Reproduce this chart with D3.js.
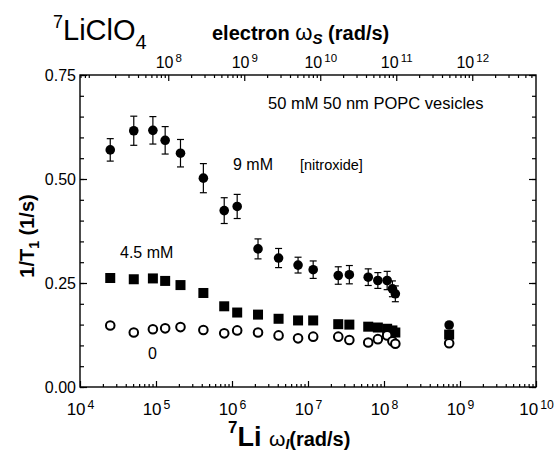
<!DOCTYPE html>
<html>
<head>
<meta charset="utf-8">
<script src="https://cdn.jsdelivr.net/npm/d3@7"></script>
<style>
  body { margin: 0; background: #fff; }
  svg { font-family: "Liberation Sans", Arial, sans-serif; }
</style>
</head>
<body>
<svg width="556" height="451"></svg>
<script>
// 7Li angular frequency (rad/s) of each measurement
var liOmega = [2.5e4, 5.1e4, 9.1e4, 1.32e5, 2.1e5, 4.2e5, 7.9e5, 1.17e6, 2.2e6, 4.1e6,
               7.4e6, 1.17e7, 2.5e7, 3.5e7, 6.2e7, 8.3e7, 1.1e8, 1.29e8, 1.41e8, 7.2e8];

// 1/T1 (1/s) for the three nitroxide concentrations
var rate9mM = [0.570, 0.616, 0.617, 0.593, 0.562, 0.502, 0.424, 0.434, 0.332, 0.310,
               0.293, 0.282, 0.268, 0.270, 0.264, 0.256, 0.256, 0.236, 0.224, 0.149];
var err9mM  = [0.027, 0.035, 0.033, 0.033, 0.033, 0.035, 0.031, 0.029, 0.024, 0.023,
               0.019, 0.021, 0.021, 0.022, 0.020, 0.019, 0.022, 0.019, 0.019, 0];
var rate45mM = [0.262, 0.259, 0.261, 0.255, 0.245, 0.226, 0.194, 0.179, 0.174, 0.164,
                0.160, 0.160, 0.151, 0.150, 0.145, 0.143, 0.140, 0.136, 0.131, 0.126];
var rate0mM = [0.148, 0.131, 0.139, 0.141, 0.144, 0.137, 0.129, 0.136, 0.131, 0.124,
               0.117, 0.121, 0.121, 0.113, 0.107, 0.115, 0.124, 0.110, 0.104, 0.105];

// ratio between electron and 7Li frequencies used for the top axis
var electronRatio = 690;

var bottomTicks = [1e4, 1e5, 1e6, 1e7, 1e8, 1e9, 1e10];
var topTicks = [1e8, 1e9, 1e10, 1e11, 1e12];
var yTicks = [0, 0.25, 0.5, 0.75];
var yMinorTicks = d3.range(0, 0.7501, 0.05);

var svg = d3.select('svg');
var padding = {t: 75, r: 20, b: 64, l: 80};
var plotW = 556 - padding.l - padding.r;
var plotH = 451 - padding.t - padding.b;

var xScale = d3.scaleLog().domain([1e4, 1e10]).range([0, plotW]);
var xTopScale = d3.scaleLog().domain([1e4 * electronRatio, 1e10 * electronRatio]).range([0, plotW]);
var yScale = d3.scaleLinear().domain([0, 0.75]).range([plotH, 0]);

var chartG = svg.append('g')
    .attr('transform', 'translate(' + [padding.l, padding.t] + ')');

// minor log ticks for a domain
function minorLogTicks(lo, hi) {
    var out = [];
    for (var e = Math.floor(Math.log10(lo)); e < Math.ceil(Math.log10(hi)); e++) {
        for (var m = 2; m <= 9; m++) {
            var v = m * Math.pow(10, e);
            if (v > lo && v < hi) out.push(v);
        }
    }
    return out;
}

function powerLabels(sel, size) {
    sel.selectAll('.tick text').each(function(d) {
        var t = d3.select(this);
        t.text(null).style('font-size', size + 'px').attr('fill', '#000');
        t.append('tspan').text('10');
        t.append('tspan').attr('dx', 2).attr('dy', '-0.5em').style('font-size', (size * 0.72) + 'px')
            .text(Math.round(Math.log10(d)));
    });
}

function cleanAxis(g) {
    g.select('.domain').remove();
    g.selectAll('.tick line').attr('stroke', '#000').attr('stroke-width', 1.2);
}

// bottom axis
var bottomG = chartG.append('g').attr('transform', 'translate(0,' + plotH + ')');
bottomG.append('g')
    .call(d3.axisBottom(xScale).tickValues(minorLogTicks(1e4, 1e10)).tickSize(-3).tickFormat(''))
    .call(cleanAxis);
bottomG.append('g')
    .call(d3.axisBottom(xScale).tickValues(bottomTicks).tickSize(-6).tickPadding(16))
    .call(cleanAxis)
    .call(powerLabels, 17);

// top axis (electron frequency)
var topG = chartG.append('g');
topG.append('g')
    .call(d3.axisTop(xTopScale).tickValues(minorLogTicks(1e4 * electronRatio, 1e10 * electronRatio))
        .tickSize(-3).tickFormat(''))
    .call(cleanAxis);
topG.append('g')
    .call(d3.axisTop(xTopScale).tickValues(topTicks).tickSize(-6).tickPadding(7))
    .call(cleanAxis)
    .call(powerLabels, 16);

// left axis
var leftG = chartG.append('g');
leftG.append('g')
    .call(d3.axisLeft(yScale).tickValues(yMinorTicks).tickSize(-4).tickFormat(''))
    .call(cleanAxis);
leftG.append('g')
    .call(d3.axisLeft(yScale).tickValues(yTicks).tickSize(-7).tickPadding(4).tickFormat(d3.format('.2f')))
    .call(cleanAxis)
    .selectAll('.tick text').style('font-size', '16px').attr('fill', '#000');

// right axis
var rightG = chartG.append('g').attr('transform', 'translate(' + plotW + ',0)');
rightG.append('g')
    .call(d3.axisRight(yScale).tickValues(yMinorTicks).tickSize(-4).tickFormat(''))
    .call(cleanAxis);
rightG.append('g')
    .call(d3.axisRight(yScale).tickValues(yTicks).tickSize(-7).tickFormat(''))
    .call(cleanAxis);

// frame
chartG.append('rect')
    .attr('width', plotW).attr('height', plotH)
    .attr('fill', 'none').attr('stroke', '#000').attr('stroke-width', 1.4);

// 4.5 mM squares
chartG.selectAll('.sq')
    .data(liOmega)
    .enter().append('rect')
    .attr('class', 'sq')
    .attr('x', function(d) { return xScale(d) - 5; })
    .attr('y', function(d, i) { return yScale(rate45mM[i]) - 5; })
    .attr('width', 10).attr('height', 10)
    .attr('fill', '#000');

// 9 mM error bars
var errG = chartG.selectAll('.err')
    .data(liOmega.map(function(d, i) { return {x: d, y: rate9mM[i], e: err9mM[i]}; })
        .filter(function(d) { return d.e > 0; }))
    .enter().append('g').attr('class', 'err')
    .attr('stroke', '#000').attr('stroke-width', 1.2);
errG.append('line')
    .attr('x1', function(d) { return xScale(d.x); })
    .attr('x2', function(d) { return xScale(d.x); })
    .attr('y1', function(d) { return yScale(d.y - d.e); })
    .attr('y2', function(d) { return yScale(d.y + d.e); });
[-1, 1].forEach(function(s) {
    errG.append('line')
        .attr('x1', function(d) { return xScale(d.x) - 3.5; })
        .attr('x2', function(d) { return xScale(d.x) + 3.5; })
        .attr('y1', function(d) { return yScale(d.y + s * d.e); })
        .attr('y2', function(d) { return yScale(d.y + s * d.e); });
});

// 9 mM filled circles
chartG.selectAll('.dot9')
    .data(liOmega)
    .enter().append('circle')
    .attr('class', 'dot9')
    .attr('cx', function(d) { return xScale(d); })
    .attr('cy', function(d, i) { return yScale(rate9mM[i]); })
    .attr('r', 4.8)
    .attr('fill', '#000');

// 0 mM open circles
chartG.selectAll('.dot0')
    .data(liOmega)
    .enter().append('circle')
    .attr('class', 'dot0')
    .attr('cx', function(d) { return xScale(d); })
    .attr('cy', function(d, i) { return yScale(rate0mM[i]); })
    .attr('r', 4.3)
    .attr('fill', '#fff')
    .attr('stroke', '#000')
    .attr('stroke-width', 2);

// in-plot annotations
chartG.append('text').attr('x', 188).attr('y', 34).attr('font-size', 16.5)
    .text('50 mM 50 nm POPC vesicles');
chartG.append('text').attr('x', 153).attr('y', 95).attr('font-size', 16).text('9 mM');
chartG.append('text').attr('x', 220).attr('y', 95).attr('font-size', 14.5).text('[nitroxide]');
chartG.append('text').attr('x', 40).attr('y', 183).attr('font-size', 16).text('4.5 mM');
chartG.append('text').attr('x', 68).attr('y', 284).attr('font-size', 16).text('0');

// title
var title = svg.append('text').attr('x', 53).attr('y', 40).attr('font-size', 29);
title.append('tspan').attr('font-size', 18).attr('dy', -12).text('7');
title.append('tspan').attr('dy', 12).text('LiClO');
title.append('tspan').attr('font-size', 20).attr('dy', 9).text('4');

// top axis title
var topTitle = svg.append('text').attr('x', 212).attr('y', 40)
    .attr('font-size', 20).attr('font-weight', 'bold');
topTitle.append('tspan').text('electron  ');
topTitle.append('tspan').attr('font-weight', 'normal').attr('font-size', 22).text('ω');
topTitle.append('tspan').attr('font-size', 15).attr('dy', 4).attr('font-style', 'italic').text('S');
topTitle.append('tspan').attr('dy', -4).text(' (rad/s)');

// bottom axis title
var botTitle = svg.append('text').attr('x', 228).attr('y', 446).attr('font-weight', 'bold');
botTitle.append('tspan').attr('font-size', 17).attr('dy', -13).text('7');
botTitle.append('tspan').attr('font-size', 27).attr('dy', 13).text('Li ');
botTitle.append('tspan').attr('font-size', 21).attr('font-weight', 'normal').text('ω');
botTitle.append('tspan').attr('font-size', 14).attr('dy', 3).attr('font-style', 'italic').text('I');
botTitle.append('tspan').attr('font-size', 20).attr('dy', -3).text('(rad/s)');

// y axis title
var yTitle = svg.append('text')
    .attr('transform', 'translate(34,236) rotate(-90)')
    .attr('text-anchor', 'middle').attr('font-size', 20).attr('font-weight', 'bold');
yTitle.append('tspan').text('1/T');
yTitle.append('tspan').attr('font-size', 14).attr('dy', 5).text('1');
yTitle.append('tspan').attr('dy', -5).text(' (1/s)');
</script>
</body>
</html>
